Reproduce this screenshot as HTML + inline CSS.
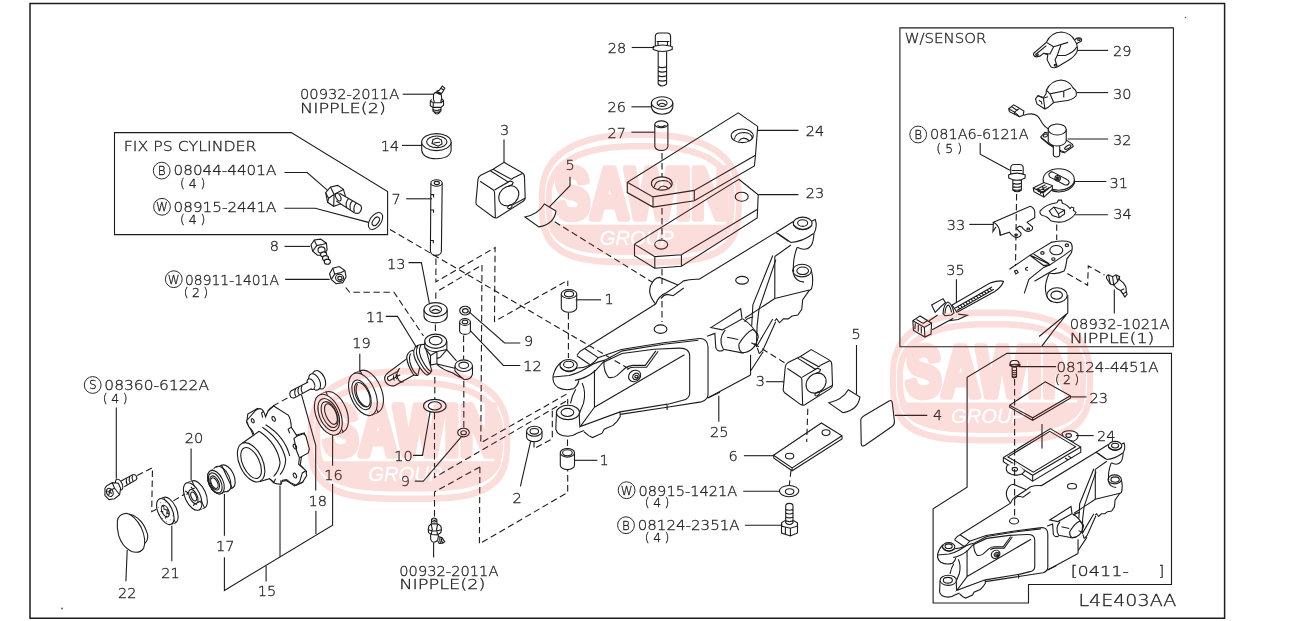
<!DOCTYPE html>
<html><head><meta charset="utf-8"><title>L4E403AA</title>
<style>
html,body{margin:0;padding:0;background:#fff}
svg{display:block}
.t text{font-family:"DejaVu Sans Light","DejaVu Sans","Liberation Sans",sans-serif;font-weight:200;font-size:14.5px;fill:#222;stroke:#222;stroke-width:.3px}
#labels{filter:grayscale(1)}
.t .s{font-size:12.5px}
.t .c{font-size:12px;text-anchor:middle}
.t .b{font-size:16px}
.l{fill:none;stroke:#1c1c1c;stroke-width:1.1}
.l *{vector-effect:non-scaling-stroke}
.f{fill:#fff}
.d{stroke-dasharray:6.4 3.6}
.wm{opacity:1}
</style></head>
<body>
<svg width="1297" height="621" viewBox="0 0 1297 621">
<rect width="1297" height="621" fill="#fff"/>
<!--PARTS-->
<g class="l" id="parts">
<g id="arm">
<g transform="translate(540,330) scale(0.19313)">
<path class="f" d="M108 168Q80 190 68 236Q62 275 91 296Q130 318 176 303L208 500L282 400L748 128L720 94L421 101L599 -135L231 96Z" stroke="none"/>
<ellipse cx="148" cy="183" rx="45" ry="30"/>
<ellipse cx="148" cy="179" rx="26" ry="17"/>
<path d="M104 190Q148 238 192 196"/>
<path d="M108 168Q80 190 68 236Q62 275 91 296Q130 318 176 303Q198 285 201 261"/>
<path d="M191 131Q208 106 231 96L599 -135"/>
<path d="M231 96L301 143M191 133L261 181"/>
<path d="M192 197Q232 195 261 181Q285 165 301 143L421 101L640 66L825 44Q868 42 870 90V335Q868 362 835 372L658 400L415 437"/>
<path d="M68 243L151 236Q200 222 226 206L276 176Q300 165 336 156L426 108L640 74L820 53"/>
<path d="M181 261Q241 250 286 211L326 168L425 122L590 100L720 94Q775 92 775 135V330Q772 358 740 364L662 384"/>
<path d="M282 207V400L748 128M282 400L208 500L415 424L658 384V414M415 424V450L398 474L378 494L332 514L322 534L272 557L252 547L228 527"/>
<path d="M932 322L868 352"/>
<path d="M331 161Q328 215 356 246Q380 250 400 235L440 198Q455 185 480 183L545 183L600 108"/>
<path d="M452 205Q465 193 485 193L552 193L612 110"/>
<ellipse cx="490" cy="238" rx="33" ry="28" transform="rotate(-35 490 238)"/>
<ellipse cx="497" cy="240" rx="18" ry="15" transform="rotate(-35 497 240)"/>
<ellipse cx="499" cy="241" rx="8" ry="7"/>
<ellipse class="f" cx="145" cy="427" rx="60" ry="37"/>
<ellipse cx="142" cy="427" rx="33" ry="21"/>
<path d="M85 432L82 514Q90 548 145 550Q175 548 192 534L228 520"/>
<path d="M203 437L206 500"/>
<path d="M185 307Q165 340 158 380M218 274Q240 320 225 380L203 434"/>
</g>
<g transform="translate(620,260) scale(0.19313)">
<path d="M185 228Q135 170 165 120Q180 92 205 90L300 130"/>
<path d="M185 228Q200 185 240 170L300 130"/>
<path d="M212 200Q225 180 245 178L275 185L330 145"/>
<path d="M300 130L330 108Q360 98 410 100L807 -143"/>
<ellipse cx="632" cy="105" rx="33" ry="20"/>
<ellipse cx="210" cy="358" rx="33" ry="22"/>
<path d="M470 350L625 252L632 305L530 362Z"/>
<path d="M545 362Q505 410 535 462L640 482"/>
<path d="M631 480Q700 478 716 395Q712 372 686 360Q650 378 616 435Q612 462 631 480"/>
<path d="M636 305Q690 340 712 392"/>
<path d="M555 400L612 412M680 428L712 446"/>
<path d="M451 395L491 380L496 455Q506 480 536 467"/>
<path d="M791 -23L688 232L682 340M807 -2L720 253L710 340L706 450L791 305M721 485L741 465L806 320"/>
<path d="M711 455L721 485M801 315L811 305L826 325L846 305L871 305L891 290L921 285L941 255L946 205L981 156"/>
<path d="M676 490V595M676 575L741 475M676 595L454 714"/>
<path d="M645 320Q655 300 690 295"/>
</g>
<g transform="translate(690,200) scale(0.20942)">
<ellipse class="f" cx="538" cy="112" rx="45" ry="30"/>
<ellipse cx="538" cy="110" rx="24" ry="16"/>
<path d="M493 118Q538 162 583 120"/>
<path d="M410 155L493 103M583 100L598 93Q610 125 592 160Q590 200 578 218Q555 248 512 226"/>
<path d="M420 160L482 203M410 155L470 197"/>
<path d="M482 203Q535 200 590 160"/>
<path d="M512 226Q488 285 495 345"/>
<ellipse cx="535" cy="337" rx="45" ry="30"/>
<ellipse cx="538" cy="338" rx="28" ry="18"/>
<path d="M493 348Q500 388 545 392M580 340Q592 385 580 425L570 432"/>
<path d="M405 270V470M405 270L482 215"/>
<path d="M405 470L570 430M405 470L330 520L262 565"/>
</g>
</g>
<use href="#arm" transform="translate(544.4,287) scale(0.711)"/>
<g id="plates">
<path class="f" d="M738.8 179.3L758.2 194.8L757.6 209.3L757.2 218L681.4 266.3L654.8 268.2L634.5 255.7V244.1Z"/>
<path d="M757.6 209.3L681.4 254.7L654.8 256.6L634.5 244.1M654.8 256.6V268.2M681.4 254.7V266.3"/>
<ellipse cx="741.7" cy="196.7" rx="6.5" ry="4.5"/>
<ellipse cx="661.2" cy="244.6" rx="6.5" ry="4.5"/>
<path class="f" d="M738.3 112.9L757.7 126.4L755.5 155.2L754.4 166L694.3 200.8L653 207.1L627.3 192.6V182.3Z"/>
<path d="M755.5 155.2L694.3 190.4L653 196.9L627.3 182.3M653 196.9V207.1M694.3 190.4V200.8"/>
<ellipse cx="742.2" cy="135.8" rx="11" ry="6.8"/>
<path d="M734.5 139.5Q735 132.5 744 132.5Q752 133 752.3 138.5M738.3 141.5Q743.5 135 749.5 141"/>
<ellipse cx="661.8" cy="183.5" rx="10.4" ry="6.6"/>
<path d="M654.3 187.2Q655 180.5 663.5 180.5Q671 181 671.5 186.5M658 189.3Q663 183 669 189"/>
</g>
<g id="bolt28">
<path d="M655.3 46.4V36.5Q655.5 33 659 33H667Q670.5 33 670.6 36.5V46.4M653.2 46.6Q662.5 43.5 672.2 46.6V49.6Q662.5 53.5 653.2 49.6ZM656.6 41.5H669.4M658 41.5V45M667.5 41.5V45M658.2 51.5V84Q662 88 666.6 84V51.5M658.2 66.8Q662 68.5 666.6 66.8M658.2 71.3Q662 73 666.6 71.3M658.2 75.8Q662 77.5 666.6 75.8M658.2 80.3Q662 82 666.6 80.3"/>
</g>
<g id="w26">
<path d="M651.4 103V107.5Q653 114 662.1 114.2Q671 114 672.8 107.5V103"/>
<ellipse class="f" cx="662.1" cy="103" rx="10.7" ry="6.2"/>
<ellipse cx="662.1" cy="103.2" rx="5" ry="3.2"/>
<path d="M658.3 105Q662 101.5 665.8 105"/>
</g>
<g id="pin27">
<path class="f" d="M654.8 124.3V146.5Q656 150.5 661.3 150.5Q667 150.5 667.9 146.5V124.3"/>
<ellipse class="f" cx="661.3" cy="124.3" rx="6.55" ry="3.4"/>
<path d="M657.5 125.3Q661 128.5 665.5 125.3"/>
</g>
<g id="nipTop" transform="translate(420,80) scale(0.0645)">
<path d="M262 172L300 160L345 95L385 125L352 185L330 212M325 128L368 155M255 170L330 210M243 192L322 228M210 222Q260 150 330 228M210 222Q198 300 225 345M330 228Q348 290 320 348"/>
<path d="M178 300L160 330V400L200 425L330 420L365 390V320L345 298M160 330L205 350L330 352L365 320M205 350V425M200 425V480Q260 522 325 480V422M200 455Q260 492 325 455M215 492Q262 565 315 490"/>
</g>
<g id="b14">
<path d="M421.7 142.1V150.3Q423 158.6 436.4 158.8Q450 158.6 451.1 150.3V142.1"/>
<ellipse class="f" cx="436.4" cy="142.1" rx="14.7" ry="8.5"/>
<ellipse cx="436.8" cy="141.8" rx="10.2" ry="5.8"/>
<path d="M432 143.5L433 139.5L437.5 138L441.5 140L442 144L438 146.2ZM433.5 143L440 142.2"/>
</g>
<g id="pin7">
<path class="f" d="M430.9 183.2L430.4 251Q431 255.3 435.8 255.4Q441 255.3 441.4 251L442.2 183.2"/>
<ellipse class="f" cx="436.55" cy="183" rx="5.65" ry="3.2"/>
<ellipse cx="436.8" cy="183" rx="2.6" ry="1.6"/>
<path d="M430.8 194.6H433.6V197.4M430.7 210H433.5V212.8M430.5 240.5H433.3V243.3"/>
</g>
<g id="fixbolt" transform="translate(250,125) scale(0.16103)">
<path class="f" d="M470 420L500 385L545 375L580 400L592 440L562 490L520 505L482 480Z"/>
<path d="M500 385L522 432L580 400M522 432L520 505M470 420L488 455L482 480M488 455L522 432"/>
<path class="f" d="M556 424L688 500Q700 520 680 545Q665 553 648 545L536 472"/>
<ellipse cx="548" cy="448" rx="14" ry="26" transform="rotate(-30 548 448)"/>
<path d="M612 457Q590 480 600 512M636 471Q614 494 624 526M660 485Q638 508 648 540"/>
</g>
<g id="fixwasher">
<ellipse cx="375.5" cy="221" rx="9.6" ry="5.6" transform="rotate(-55 375.5 221)"/>
<ellipse cx="375.8" cy="221.3" rx="4.8" ry="2.8" transform="rotate(-55 375.8 221.3)"/>
</g>
<g id="bolt8" transform="translate(270,215) scale(0.16103)">
<path class="f" d="M255 185L275 155L315 150L350 175L355 215L335 250L295 250L265 225Z"/>
<path d="M275 155L290 190L265 225M290 190L330 182L350 175"/>
<ellipse cx="320" cy="218" rx="22" ry="20"/>
<ellipse class="f" cx="333" cy="245" rx="19" ry="16"/>
<ellipse class="f" cx="345" cy="268" rx="19" ry="16"/>
<ellipse class="f" cx="356" cy="290" rx="19" ry="16"/>
</g>
<g id="nut" transform="translate(270,215) scale(0.16103)">
<path class="f" d="M370 365L390 330L430 320L465 345L472 385L452 420L410 427L380 400Z"/>
<path d="M390 330L402 367L380 400M402 367L442 357L465 345"/>
<ellipse cx="432" cy="390" rx="25" ry="22"/>
<ellipse cx="434" cy="392" rx="13" ry="11"/>
</g>
<g id="smallcyl">
<path class="f" d="M424.0 309.6V315.9A11.6 7 0 0 0 447.20000000000005 315.9V309.6"/><ellipse class="f" cx="435.6" cy="309.6" rx="11.6" ry="7"/><ellipse cx="435.6" cy="309.6" rx="6" ry="3.8"/><path d="M431.5 311.2Q435.6 307.5 439.7 311.2"/>
<path class="f" d="M459.6 322V331A5.4 3.4 0 0 0 470.4 331V322"/><ellipse class="f" cx="465" cy="322" rx="5.4" ry="3.4"/><ellipse cx="465" cy="322" rx="2.8" ry="1.8"/>
<path class="f" d="M561.3 294V307.8A7.7 4.4 0 0 0 576.7 307.8V294"/><ellipse class="f" cx="569" cy="294" rx="7.7" ry="4.4"/><ellipse cx="569" cy="294" rx="4.6" ry="2.7"/>
<path class="f" d="M560.3 452.8V465.3A7.1 4.3 0 0 0 574.5 465.3V452.8"/><ellipse class="f" cx="567.4" cy="452.8" rx="7.1" ry="4.3"/><ellipse cx="567.4" cy="452.8" rx="4.8" ry="3"/>
<path class="f" d="M526.5999999999999 431.3V436.8A7.7 5 0 0 0 542.0 436.8V431.3"/><ellipse class="f" cx="534.3" cy="431.3" rx="7.7" ry="5"/><ellipse cx="534.3" cy="431.3" rx="4.3" ry="2.8"/>
<ellipse cx="465.1" cy="310.6" rx="5.4" ry="4.4"/><ellipse cx="465.3" cy="310.8" rx="2.8" ry="2.2"/>
<ellipse class="f" cx="434.8" cy="405.9" rx="11.3" ry="6.5"/><ellipse cx="434.8" cy="405.9" rx="6.6" ry="4.1"/>
<ellipse class="f" cx="463.5" cy="432.6" rx="5.8" ry="4.3"/><ellipse cx="463.6" cy="432.7" rx="2.8" ry="2"/>
</g>
<g id="knuckle" transform="translate(370,320) scale(0.12875)">
<path class="f" d="M287 300L140 410Q100 440 120 480Q150 520 190 510L345 425"/>
<path d="M232 375Q200 400 215 450Q230 490 262 480M140 440L225 395M150 472L235 425M140 440Q128 460 150 472M185 430Q175 450 190 470M205 420Q195 440 210 460"/>
<path class="f" d="M330 235Q290 250 285 290Q290 350 335 420Q350 435 372 430L400 300Z"/>
<path d="M318 262Q300 280 310 330Q330 400 365 425"/>
<path class="f" d="M352 208Q385 185 425 190L480 395Q465 425 442 428Q410 410 375 350Q318 262 352 208Z"/>
<path d="M372 200Q340 256 395 340Q430 400 460 415M395 195Q365 250 415 330Q445 385 475 400"/>
<path class="f" d="M425 165V215L470 275V350L520 342Q560 385 640 410Q700 452 760 460L796 420V355L672 318L597 232V165Z" stroke="none"/>
<path d="M425 165V215Q470 252 520 245L597 230V165"/>
<ellipse class="f" cx="510" cy="165" rx="85" ry="55"/>
<ellipse cx="510" cy="160" rx="50" ry="33"/>
<path d="M425 215L470 275L520 245M470 275V350L520 340V245M597 230L545 290L520 300"/>
<path d="M597 232L672 318M520 342L660 375M520 345Q560 385 640 410Q700 452 760 460"/>
<path class="f" d="M660 355V395Q690 430 730 462Q785 465 796 420V355"/>
<ellipse class="f" cx="728" cy="355" rx="68" ry="45"/>
<ellipse cx="728" cy="352" rx="38" ry="25"/>
</g>
<g id="blk3" transform="translate(465,150) scale(0.1368)">
<path class="f" d="M285 90L415 165Q435 175 435 200L440 350Q440 365 425 375L235 495Q220 500 205 490L90 405Q78 395 80 380L95 215Q98 195 115 185L205 140Z"/>
<path d="M110 228L205 290Q216 297 216 312L222 495M216 293L330 226L352 236L346 252L318 265M352 205L420 172M205 140L340 215L352 205M185 152L312 232L330 226"/>
<ellipse cx="320" cy="335" rx="80" ry="66" transform="rotate(-45 320 335)"/>
<ellipse cx="328" cy="415" rx="18" ry="11" transform="rotate(-35 328 415)"/>
<path d="M346 403L438 352"/>
</g>
<use href="#blk3" transform="translate(307.3,187.3)"/>
<g id="shim5" transform="translate(465,150) scale(0.1368)">
<path class="f" d="M438 490Q535 470 580 395L665 447Q650 545 540 562Z"/>
</g>
<use href="#shim5" transform="translate(304,185.8)"/>
<path id="item4" d="M864.5 415.5L889 401Q892 399.5 892.3 403L894.4 421Q894.8 424.5 892 426.5L865 445.2Q861.3 447.5 861.2 443.5L860.8 420.5Q860.8 417.5 864.5 415.5Z"/>
<g id="plate6">
<path class="f" d="M773.5 455.2L821.4 423L842 435.8V439L792.1 470.8L773.9 458.3Z"/>
<path d="M773.5 455.2L792.1 467.9L842 435.8M792.1 467.9V470.8"/>
<ellipse cx="789.6" cy="456.1" rx="4.2" ry="2.9"/>
<ellipse cx="826" cy="432.6" rx="4" ry="2.9"/>
</g>
<g id="washerB">
<ellipse cx="789.1" cy="491.1" rx="9.7" ry="5.6"/>
<ellipse cx="789.6" cy="491.6" rx="4.2" ry="2.9"/>
</g>
<g id="boltB">
<path d="M785.7 523V506Q785.8 503.4 789.3 503.4Q793 503.4 793 506V523M785.7 509.3Q789.3 511.3 793 509.3M785.7 513Q789.3 515 793 513M785.7 516.9Q789.3 518.9 793 516.9M785.7 520.6Q789.3 522.6 793 520.6"/>
<path d="M781.5 522.8L785.4 520.4M793.3 520.4L797.5 522.8L797.2 526.2L790.4 528.3L782 526.2L781.5 522.8V533L790.4 536L797.5 533V522.8M785.4 527V534.2M790.4 528.3V536M785.7 523Q789.3 526 793 523"/>
</g>
<g id="seals" transform="translate(300,360) scale(0.1368)">
<ellipse class="f" cx="505" cy="230" rx="165" ry="90" transform="rotate(67 505 230)"/><path class="f" d="M395.5 98.1L440.5 78.1L569.5 381.9L524.5 401.9" stroke-linejoin="round"/><path class="f" d="M436.0 80.1L565.0 383.9L524.5 401.9L395.5 98.1Z" stroke="none"/><ellipse class="f" cx="460" cy="250" rx="165" ry="90" transform="rotate(67 460 250)"/><ellipse cx="450" cy="255" rx="115" ry="60" transform="rotate(67 450 255)"/><ellipse cx="456" cy="254" rx="95" ry="48" transform="rotate(67 456 254)"/><path d="M420 175Q395 220 430 290Q455 335 490 340"/>
<ellipse class="f" cx="252" cy="380" rx="158" ry="88" transform="rotate(67 252 380)"/><path class="f" d="M145.3 254.6L190.3 234.6L313.7 525.4L268.7 545.4" stroke-linejoin="round"/><path class="f" d="M185.8 236.6L309.2 527.4L268.7 545.4L145.3 254.6Z" stroke="none"/><ellipse class="f" cx="207" cy="400" rx="158" ry="88" transform="rotate(67 207 400)"/><ellipse cx="210" cy="400" rx="125" ry="68" transform="rotate(67 210 400)"/><ellipse cx="216" cy="399" rx="100" ry="52" transform="rotate(67 216 399)"/><ellipse cx="226" cy="395" rx="80" ry="38" transform="rotate(67 226 395)"/>
</g>
<g id="stud18" transform="translate(225,365) scale(0.2174)">
<ellipse class="f" cx="432" cy="68" rx="45" ry="27" transform="rotate(65 432 68)"/><ellipse class="f" cx="412" cy="78" rx="40" ry="24" transform="rotate(65 412 78)"/><ellipse class="f" cx="395" cy="88" rx="26" ry="16" transform="rotate(65 395 88)"/><path class="f" d="M383 78L305 118Q292 130 303 148Q312 155 322 150L398 108"/><path d="M340 102Q330 118 342 138M325 110Q315 126 327 146M355 94Q345 110 357 130"/>
<path class="f" d="M105 225L150 200L175 213L185 238L200 212L218 195L290 235L302 270L290 300L330 322L365 312L385 385L352 420L346 460L375 490L357 540L320 556L282 532L255 536L232 542L212 520L120 300L100 265Z"/>
</g>
<g id="hub" transform="translate(235,395) scale(0.16103)">
<path class="f" d="M72 160L128 95Q150 78 165 88Q180 100 190 135L205 100L240 68L330 125Q345 140 350 200L385 255L425 240L440 255L462 335L455 360L400 390L395 430L440 470L445 500L420 540L380 560L345 545L320 525L295 530L285 555L250 550L215 520L110 225L85 195Z"/>
<path d="M240 68L218 84L205 100M350 200L330 212L340 238M385 255L366 270L382 345L400 390M440 470L418 484L402 538L380 560M178 100L165 112L172 140"/>
<ellipse cx="110" cy="160" rx="14" ry="8" transform="rotate(65 110 160)"/><ellipse cx="240" cy="148" rx="16" ry="9" transform="rotate(65 240 148)"/><ellipse cx="372" cy="320" rx="16" ry="9" transform="rotate(65 372 320)"/><ellipse cx="372" cy="500" rx="16" ry="9" transform="rotate(65 372 500)"/>
<path class="f" d="M45 300L190 185Q310 255 340 380Q335 450 300 500L160 538Z" stroke="none"/>
<path d="M45 300L150 225M150 225Q262 300 280 420Q275 470 240 505M170 200Q290 280 315 400Q312 455 280 495M190 185Q310 258 340 380"/>
<ellipse class="f" cx="100" cy="418" rx="130" ry="72" transform="rotate(65 100 418)"/><ellipse cx="100" cy="422" rx="103" ry="52" transform="rotate(65 100 422)"/>
<path d="M155 537L215 520L240 545L252 520M285 555V530"/>
</g>
<g id="brg" transform="translate(140,450) scale(0.1368)">
<ellipse class="f" cx="635" cy="195" rx="92" ry="52" transform="rotate(65 635 195)"/><path class="f" d="M516.1 151.6L596.1 111.6L673.9 278.4L593.9 318.4" stroke-linejoin="round"/><path class="f" d="M588.1 115.6L665.9 282.4L593.9 318.4L516.1 151.6Z" stroke="none"/><ellipse class="f" cx="555" cy="235" rx="92" ry="52" transform="rotate(65 555 235)"/><ellipse cx="600" cy="212" rx="100" ry="54" transform="rotate(65 600 212)"/><path class="f" d="M516 152L555 130Q620 150 640 280L600 318Z" stroke="none"/><ellipse class="f" cx="555" cy="235" rx="92" ry="52" transform="rotate(65 555 235)"/><ellipse cx="550" cy="240" rx="78" ry="42" transform="rotate(65 550 240)"/><ellipse cx="546" cy="241" rx="55" ry="30" transform="rotate(65 546 241)"/><ellipse cx="544" cy="242" rx="42" ry="22" transform="rotate(65 544 242)"/>
<ellipse class="f" cx="425" cy="325" rx="108" ry="55" transform="rotate(65 425 325)"/><path class="f" d="M339.4 242.1L379.4 227.1L470.6 422.9L430.6 437.9" stroke-linejoin="round"/><path class="f" d="M375.4 228.6L466.6 424.4L430.6 437.9L339.4 242.1Z" stroke="none"/><ellipse class="f" cx="385" cy="340" rx="108" ry="55" transform="rotate(65 385 340)"/><ellipse cx="390" cy="340" rx="55" ry="28" transform="rotate(65 390 340)"/><ellipse cx="392" cy="340" rx="35" ry="18" transform="rotate(65 392 340)"/><path d="M330 300L350 312L342 328M372 270L385 285L400 278M420 385L440 375L450 390M390 410L398 392L415 398"/>
<ellipse class="f" cx="215" cy="440" rx="102" ry="52" transform="rotate(65 215 440)"/><path class="f" d="M141.9 357.6L171.9 347.6L258.1 532.4L228.1 542.4" stroke-linejoin="round"/><path class="f" d="M168.9 348.6L255.1 533.4L228.1 542.4L141.9 357.6Z" stroke="none"/><ellipse class="f" cx="185" cy="450" rx="102" ry="52" transform="rotate(65 185 450)"/><ellipse cx="185" cy="447" rx="45" ry="24" transform="rotate(65 185 447)"/><path d="M160 405L178 420M150 450L170 452M185 500L195 480M215 470L200 460M170 430L200 440L195 470"/><g fill="#222" stroke="none"><circle cx="150" cy="385" r="3.5"/><circle cx="185" cy="380" r="3.5"/><circle cx="135" cy="420" r="3.5"/><circle cx="215" cy="400" r="3.5"/><circle cx="235" cy="440" r="3.5"/><circle cx="240" cy="480" r="3.5"/><circle cx="225" cy="510" r="3.5"/><circle cx="195" cy="525" r="3.5"/><circle cx="165" cy="500" r="3.5"/><circle cx="145" cy="470" r="3.5"/></g>
</g>
<g id="screwS" transform="translate(80,440) scale(0.16103)">
<path class="f" d="M255 255L330 215Q345 212 352 228Q355 240 348 248L275 290"/><path d="M290 240Q282 258 294 278M308 230Q300 248 312 268M326 220Q318 238 330 258"/>
<ellipse class="f" cx="243" cy="277" rx="36" ry="19" transform="rotate(65 243 277)"/><path class="f" d="M155 300L165 285L200 265L238 268L252 300L246 340L215 365L180 370L155 345Z"/><ellipse cx="185" cy="325" rx="26" ry="20" transform="rotate(65 185 325)"/><path d="M170 318L200 332M192 308L178 342M200 265L215 300L246 340M215 300L180 315"/>
</g>
<g id="cap22" transform="translate(80,500) scale(0.16103)">
<path class="f" d="M310 88Q390 110 420 215Q425 250 400 272L320 200Z"/><path class="f" d="M232 130Q240 85 290 82Q340 95 380 170Q415 250 395 300Q370 335 320 320Q260 290 240 220Q228 170 232 130Z"/>
</g>
<g id="i29" transform="translate(1000,25) scale(0.1449)">
<path class="f" d="M232 195Q228 215 250 220L275 215L300 195L330 205L325 240L350 288Q370 300 395 290L470 245Q520 215 533 180Q540 140 515 105Q490 55 425 48Q350 50 320 120Z"/>
<path d="M515 103Q530 85 555 90Q570 100 560 112L530 128"/>
<path d="M320 120L370 150L345 200L300 195M370 150L470 120M420 140L395 210L450 210Q510 190 530 150M395 210L380 240L395 290M320 142L250 200"/>
<ellipse cx="255" cy="205" rx="9" ry="6"/><ellipse cx="383" cy="278" rx="9" ry="6"/><ellipse cx="545" cy="101" rx="9" ry="6"/>
<path class="f" d="M320 450Q350 385 420 380Q480 385 505 435Q535 455 525 490Q500 520 440 525L370 535L330 570L310 580L255 545L245 510L262 488L300 500L318 475Z"/>
<path d="M320 450L345 475L440 455L490 435M345 475L370 535M440 455V500M262 488L300 505L330 495M300 505L310 580M268 520L285 530L290 548"/>
</g>
<g id="i32" transform="translate(1000,95) scale(0.1449)">
<path class="f" d="M280 290L310 258L335 262L457 310L500 340L505 355L450 395L420 385L335 335Z"/>
<path d="M283 296L338 342L420 392L450 400"/>
<ellipse cx="313" cy="280" rx="15" ry="9" transform="rotate(-20 313 280)"/>
<ellipse cx="468" cy="360" rx="25" ry="10" transform="rotate(-30 468 360)"/>
<path class="f" d="M368 340V415Q372 428 390 428Q408 428 412 415V345"/>
<path class="f" d="M333 238V318Q345 350 395 352Q445 350 457 318V238"/>
<ellipse class="f" cx="395" cy="238" rx="62" ry="38"/>
<path d="M335 235Q300 215 280 175Q260 130 215 130Q185 130 165 140"/>
<path class="f" d="M60 95L95 68L165 110L160 140L135 150L65 115Z"/>
<path d="M60 95L100 118L135 150M100 118L130 95M80 80L115 104M100 118L98 132"/>
</g>
<g id="bolt81">
<path d="M1010.7 174.5V167.5Q1010.9 164.5 1014.5 164.5H1019.5Q1023 164.5 1023.2 167.5V174.5M1008.7 174.8Q1017 171.5 1025.1 174.8V178Q1017 182.5 1008.7 178ZM1011.8 170.5H1022.2M1012.8 180V190Q1017 193.5 1021.4 190V180M1012.8 183.3Q1017 185 1021.4 183.3M1012.8 186.4Q1017 188 1021.4 186.4M1012.8 189.4Q1017 191 1021.4 189.4"/>
</g>
<g id="i31" transform="translate(985,155) scale(0.153)">
<path class="f" d="M382 160V175Q400 235 482 242Q560 238 585 185V160"/>
<ellipse class="f" cx="482" cy="160" rx="102" ry="70"/>
<path d="M425 115Q410 125 425 145L520 195Q545 200 550 180Q550 165 535 160L445 112Q432 108 425 115Z"/>
<circle cx="475" cy="152" r="18"/><circle cx="475" cy="152" r="10"/><circle cx="475" cy="152" r="4"/>
<path class="f" d="M315 215L385 180L440 200L440 225L385 275L320 240Z"/>
<path d="M315 215L380 248L385 275M380 248L440 200M335 225L395 195M345 240L405 205M360 250L420 212M350 215L365 255M375 205L390 240"/>
</g>
<g id="i34" transform="translate(985,155) scale(0.153)">
<path class="f" d="M360 365Q400 320 470 312L480 295L500 295L505 315Q540 325 555 350L565 340L580 345L578 362L595 375Q580 410 520 435Q470 445 430 430Q410 400 375 395Q355 385 360 365Z"/>
<path d="M420 365L450 340L520 360L520 385L485 410L440 395ZM450 340L480 385L485 410M480 385L520 360"/>
</g>
<g id="i33" transform="translate(985,155) scale(0.153)">
<path class="f" d="M55 440L295 335Q322 345 325 370V410L275 440L310 470Q315 495 285 500Q260 500 240 470L225 465L205 480L235 510Q240 535 205 540Q180 535 160 505L100 525L95 490Q85 455 55 440Z"/>
<path d="M55 440L52 500L72 470M100 525L95 490"/>
<ellipse cx="283" cy="483" rx="9" ry="6"/><ellipse cx="203" cy="522" rx="9" ry="6"/>
</g>
<g id="armend" transform="translate(990,235) scale(0.18519)">
<path d="M105 185L215 110L330 40Q400 25 435 40Q450 60 440 95L415 130Q410 175 400 195Q360 215 320 205"/>
<path d="M215 110L230 115L325 160L400 110L440 80M215 110L290 165L325 160M235 103L320 155"/>
<ellipse cx="358" cy="82" rx="35" ry="25"/>
<ellipse cx="283" cy="97" rx="9" ry="7"/><ellipse cx="342" cy="130" rx="9" ry="7"/><ellipse cx="415" cy="55" rx="9" ry="7"/>
<path d="M132 195L145 190L152 203L140 210ZM205 175Q190 175 192 185Q195 192 205 190"/>
<path d="M325 160L290 175L210 240L185 315M360 180L240 250"/>
<path d="M320 205Q295 260 300 300Q305 350 335 360"/>
<ellipse cx="362" cy="325" rx="55" ry="40"/>
<ellipse cx="360" cy="325" rx="31" ry="22"/>
<path d="M420 325V420L340 520L280 600M415 425L265 548"/>
</g>
<g id="nipR" transform="translate(990,235) scale(0.18519)">
<path d="M630 235Q625 220 640 215L662 225L680 215L700 225L698 240L720 258Q738 280 735 300L740 320L728 335L718 318L705 300Q680 290 668 270L650 265Z"/>
<path d="M640 215L650 265M662 225L668 270M680 215L690 250L668 270M700 225L690 250M705 300L725 290M718 318L735 308"/>
</g>
<g id="tie35" transform="translate(905,270) scale(0.12083)">
<path class="f" d="M390 290L700 110Q790 80 815 95Q800 140 740 180L430 350Z"/>
<path d="M415 315L720 140M430 335L735 160M437 302L452 322M459 290L474 310M481 277L496 297M503 264L518 284M525 252L540 272M547 239L562 259M569 226L584 246M591 214L606 234M613 201L628 221M635 188L650 208M657 176L672 196M679 163L694 183M701 150L716 170"/>
<path class="f" d="M220 290L315 237L335 270L300 300L250 350Z"/>
<path class="f" d="M315 360Q320 280 355 265Q390 280 405 355L385 372L330 378Z"/>
<path d="M330 360Q335 300 358 290Q375 300 385 350"/>
<path d="M200 420L270 372M225 495L400 400M365 420L440 410L515 375L440 365"/>
<path class="f" d="M65 420L125 380L220 440L215 530L165 555L70 500Z"/>
<path d="M65 420L160 475L165 555M160 475L220 440M85 440L82 490M110 455V510M135 470V525M95 410L150 442L185 420"/>
</g>
<g id="lowerbox" transform="translate(995,355) scale(0.2092)">
<path d="M72 42Q72 28 85 26H102Q115 28 115 42V48Q92 60 72 48ZM68 48Q92 40 120 48Q92 68 68 48M82 60V105Q92 112 103 105V60M82 72Q92 78 103 72M82 82Q92 88 103 82M82 92Q92 98 103 92M82 102Q92 108 103 102"/>
<path class="f" d="M240 128L360 195V207L180 312L70 250V240Z"/>
<path d="M70 240L180 300L360 195M180 300V312"/>
<path class="f" d="M320 375Q330 360 360 362Q395 365 398 385Q395 405 375 412L330 400Z"/>
<path class="f" d="M265 352L410 440V465L180 603L40 510V490Z"/>
<path d="M40 490L180 575L410 440M180 575V603"/>
<path d="M262 365L385 438L183 560L62 487ZM350 482L365 492M335 492L350 502"/>
<ellipse cx="352" cy="385" rx="13" ry="9"/>
<path class="f" d="M60 525Q48 545 60 560Q80 577 110 574Q135 570 142 553L100 520Z" />
<path class="f" d="M62 524L142 553L100 515Z" stroke="none"/>
<ellipse cx="95" cy="546" rx="13" ry="9"/>
</g>
<g id="nipLow" transform="translate(415,510) scale(0.0645)">
<path d="M255 205V150Q260 125 295 125Q335 128 340 155V205M255 172Q295 200 340 172M268 150Q295 170 328 150"/>
<path d="M215 250L250 215L350 215L400 250L410 300L400 350L350 385L250 380L210 350L205 300ZM250 215L268 300L250 380M350 215L335 300L350 385M210 305Q300 345 408 305"/>
<path d="M240 385L245 460Q260 500 290 500Q340 495 355 455L365 390"/>
<path d="M365 410L420 430L460 490L430 515L375 520L352 478M420 430Q395 470 430 515M395 420Q370 455 400 518"/>
</g>
<!--MOREPARTS-->
</g>
<g fill="#555"><circle cx="1185.5" cy="17.5" r=".8"/><circle cx="62" cy="608.5" r=".9"/></g>
<!--FRAME-->
<g class="l" id="frame">
<rect x="30" y="3.6" width="1194.6" height="614.6" stroke-width="1.5"/>
<path d="M114.5 234.6V132.6H291.3L387.6 191.5V234.6Z"/>
<path d="M899.9 27.9H1173.4V346.8H899.9Z"/>
<path d="M1171.5 353.4H1006.9L967.1 377.4V487.3L933.1 508.7V603H1028.5V584.5H1171.5Z"/>
</g>
<!--LEADERS-->
<g class="l" id="leaders">
<path d="M402.7 94.2H434"/>
<path d="M402 145.4H422"/>
<path d="M284.4 172.5H307.2L327.3 190.2"/>
<path d="M284.4 208.3H315.2L368.4 222.4"/>
<path d="M406.2 198.8H432"/>
<path d="M284.5 246.4H310.3"/>
<path d="M285.2 279.4H329.6"/>
<path d="M408.5 262.6H421.4L429.4 303.6"/>
<path d="M385.8 316.4H397.5L416.6 347.5"/>
<path d="M359.8 353.8V372.3"/>
<path d="M468.5 311.4L504.6 343H520.3"/>
<path d="M470.3 330.6L503.4 365.5H520.3"/>
<path d="M413 455.4H422.5L430.2 411.6"/>
<path d="M414.8 481.1H423.3L461.9 436.1"/>
<path d="M116.3 407.5V478.6"/>
<path d="M191.1 448.6V480.3"/>
<path d="M127.2 550L125.9 581.3"/>
<path d="M171.8 525.8V561.2"/>
<path d="M224.4 494V535.8M224.4 557.2V590.5L332.6 525.1V483.7M332.6 465.7V435.2"/>
<path d="M280 485.5V556.7"/>
<path d="M301.5 394.7L315.7 445.4V490.5M315.9 510.8V534.1"/>
<path d="M266.1 565.7V581.5"/>
<path d="M504 139.5V162"/>
<path d="M570 176.7V185.7L549.1 207.1"/>
<path d="M631.4 106.8H651"/>
<path d="M631.4 132.2H655"/>
<path d="M631.7 47.5H654.3"/>
<path d="M757.8 130.4H798.4"/>
<path d="M758.2 194.6H798.4"/>
<path d="M575.7 299.8H601"/>
<path d="M574.5 460.3H597.3"/>
<path d="M520.4 486.3L530.7 441.2"/>
<path d="M743.9 455.7H773.2"/>
<path d="M743.2 491.3H779.4"/>
<path d="M744.9 525.2H781.5"/>
<path d="M718.8 395.7V421.7"/>
<path d="M766.1 381.7H784.1"/>
<path d="M856.5 345V394.2"/>
<path d="M894.8 415.4H927.3"/>
<path d="M433.6 542.7V557.6"/>
<path d="M1077 50.4H1108.2"/>
<path d="M1077 92.6H1108.2"/>
<path d="M1067.6 139H1108.2"/>
<path d="M980.2 142.9V154.2L1009.9 170.3"/>
<path d="M1074.1 181.5H1106.3"/>
<path d="M1075.2 214.7H1107.9"/>
<path d="M969.3 224.4H993"/>
<path d="M956.4 279.3V302.6"/>
<path d="M1114.3 289.4V313.6"/>
<path d="M1018.4 366.6H1056.1"/>
<path d="M1070.3 396.9H1086.4"/>
<path d="M1076 435.6H1093.7"/>
<path d="M1042 424.1V448.6"/>
</g>
<!--DASHED-->
<g class="l d" id="dashed">
<path d="M390 229.5L632.2 370.7"/>
<path d="M554.7 221.8L652.5 282.3"/>
<path d="M435.9 258.5V281.8L495.1 247.5L494.5 321.4L567.8 280.3V286"/>
<path d="M435.8 298.8V294Q435.8 292 438 291L482 264.9L480.8 442.8L567.7 393.5"/>
<path d="M568.4 313V358"/>
<path d="M463.6 335.5V359.5M463.8 381V427.5"/>
<path d="M435.4 324.5V333.5M434.8 377V399M434.5 413V477.5L566.8 400.8"/>
<path d="M567.7 399V404.5"/>
<path d="M662 153V177M662 208V239.5M662 269V284M662 301V322"/>
<path d="M345.7 287.5L349.7 292.3H394L423.5 336"/>
<path d="M479.9 466.9L434.5 492V517.5"/>
<path d="M479.9 466.9L479.4 543.8L567.7 492.5V470"/>
<path d="M567.5 439.5V448"/>
<path d="M534 441V448.6L552.3 438.9V409"/>
<path d="M137.2 475.4L152.5 467.7L151.7 511.7L156.5 509.2"/>
<path d="M173.4 500.9L184.7 494"/>
<path d="M273 406L291 396"/>
<path d="M1016.6 194L1015.5 266"/>
<path d="M1056.7 224.4V240.1"/>
<path d="M1067.3 273.5L1087.6 285.2L1088.3 266L1104.5 275"/>
<path d="M1014.6 379V516"/>
<path d="M753.6 343.5L787 364.3"/>
<path d="M807.8 408.7L806.7 442"/>
<path d="M791 470.4L789.3 485"/>
</g>
<!--TEXT-->
<g class="t" id="labels">
<text x="300.0" y="99.0" textLength="99.2" lengthAdjust="spacingAndGlyphs">00932-2011A</text>
<text x="300.0" y="113.2" textLength="85.8" lengthAdjust="spacingAndGlyphs">NIPPLE(2)</text>
<text x="390.0" y="151.3" text-anchor="middle">14</text>
<text x="123.8" y="150.8" textLength="132.7" lengthAdjust="spacingAndGlyphs">FIX PS CYLINDER</text>
<text x="173.6" y="175.2" textLength="102.7" lengthAdjust="spacingAndGlyphs">08044-4401A</text>
<text x="180.0" y="187.8" textLength="25.5" lengthAdjust="spacing" class="s">(4)</text>
<text x="173.6" y="212.3" textLength="102.9" lengthAdjust="spacingAndGlyphs">08915-2441A</text>
<text x="180.0" y="224.2" textLength="25.5" lengthAdjust="spacing" class="s">(4)</text>
<text x="396.1" y="204.2" text-anchor="middle">7</text>
<text x="274.3" y="251.2" text-anchor="middle">8</text>
<text x="185.0" y="284.5" textLength="94.0" lengthAdjust="spacingAndGlyphs">08911-1401A</text>
<text x="183.7" y="296.6" textLength="24.5" lengthAdjust="spacing" class="s">(2)</text>
<text x="396.2" y="268.5" text-anchor="middle">13</text>
<text x="375.3" y="321.6" text-anchor="middle">11</text>
<text x="361.4" y="348.2" text-anchor="middle">19</text>
<text x="528.5" y="346.4" text-anchor="middle">9</text>
<text x="532.5" y="370.7" text-anchor="middle">12</text>
<text x="403.5" y="461.3" text-anchor="middle">10</text>
<text x="405.4" y="485.8" text-anchor="middle">9</text>
<text x="104.3" y="390.3" textLength="104.7" lengthAdjust="spacingAndGlyphs">08360-6122A</text>
<text x="102.7" y="402.7" textLength="24.9" lengthAdjust="spacing" class="s">(4)</text>
<text x="193.9" y="443.0" text-anchor="middle">20</text>
<text x="127.3" y="598.2" text-anchor="middle">22</text>
<text x="170.5" y="578.1" text-anchor="middle">21</text>
<text x="225.2" y="550.7" text-anchor="middle">17</text>
<text x="267.1" y="596.3" text-anchor="middle">15</text>
<text x="333.4" y="480.3" text-anchor="middle">16</text>
<text x="317.8" y="505.8" text-anchor="middle">18</text>
<text x="504.6" y="135.0" text-anchor="middle">3</text>
<text x="570.1" y="170.3" text-anchor="middle">5</text>
<text x="616.7" y="112.4" text-anchor="middle">26</text>
<text x="616.7" y="137.9" text-anchor="middle">27</text>
<text x="616.9" y="53.4" text-anchor="middle">28</text>
<text x="815.1" y="135.7" text-anchor="middle">24</text>
<text x="815.1" y="198.0" text-anchor="middle">23</text>
<text x="609.0" y="304.4" text-anchor="middle">1</text>
<text x="604.2" y="464.7" text-anchor="middle">1</text>
<text x="517.0" y="502.5" text-anchor="middle">2</text>
<text x="719.2" y="436.8" text-anchor="middle">25</text>
<text x="760.4" y="386.1" text-anchor="middle">3</text>
<text x="856.2" y="339.1" text-anchor="middle">5</text>
<text x="733.2" y="460.5" text-anchor="middle">6</text>
<text x="937.5" y="419.7" text-anchor="middle">4</text>
<text x="638.6" y="495.5" textLength="98.6" lengthAdjust="spacingAndGlyphs">08915-1421A</text>
<text x="644.8" y="507.4" textLength="24.7" lengthAdjust="spacing" class="s">(4)</text>
<text x="637.7" y="530.0" textLength="102.0" lengthAdjust="spacingAndGlyphs">08124-2351A</text>
<text x="644.8" y="542.0" textLength="24.7" lengthAdjust="spacing" class="s">(4)</text>
<text x="399.3" y="575.7" textLength="99.1" lengthAdjust="spacingAndGlyphs">00932-2011A</text>
<text x="399.3" y="589.0" textLength="86.2" lengthAdjust="spacingAndGlyphs">NIPPLE(2)</text>
<text x="904.7" y="43.2" textLength="81.8" lengthAdjust="spacingAndGlyphs">W/SENSOR</text>
<text x="1122.3" y="56.1" text-anchor="middle">29</text>
<text x="1122.3" y="98.5" text-anchor="middle">30</text>
<text x="1122.3" y="144.7" text-anchor="middle">32</text>
<text x="930.1" y="139.0" textLength="98.6" lengthAdjust="spacingAndGlyphs">081A6-6121A</text>
<text x="936.2" y="152.6" textLength="26.0" lengthAdjust="spacing" class="s">(5)</text>
<text x="1118.8" y="187.6" text-anchor="middle">31</text>
<text x="1122.5" y="219.4" text-anchor="middle">34</text>
<text x="956.1" y="229.5" text-anchor="middle">33</text>
<text x="955.4" y="275.4" text-anchor="middle">35</text>
<text x="1069.7" y="329.0" textLength="100.0" lengthAdjust="spacingAndGlyphs">08932-1021A</text>
<text x="1069.7" y="342.8" textLength="84.6" lengthAdjust="spacingAndGlyphs">NIPPLE(1)</text>
<text x="1056.5" y="372.2" textLength="102.1" lengthAdjust="spacingAndGlyphs">08124-4451A</text>
<text x="1055.0" y="384.4" textLength="24.1" lengthAdjust="spacing" class="s">(2)</text>
<text x="1098.8" y="402.6" text-anchor="middle">23</text>
<text x="1106.3" y="440.7" text-anchor="middle">24</text>
<text x="1070.7" y="576.0" textLength="58.1" lengthAdjust="spacingAndGlyphs">[0411-</text>
<text x="1161.4" y="576.0" text-anchor="middle">]</text>
<text x="1078.4" y="606.0" textLength="97.9" lengthAdjust="spacingAndGlyphs" class="b">L4E403AA</text>
<circle cx="161.7" cy="170.6" r="8.4" fill="none" stroke="#2b2b2b" stroke-width="1"/><text x="161.7" y="175.0" class="c">B</text>
<circle cx="162" cy="206.8" r="8.4" fill="none" stroke="#2b2b2b" stroke-width="1"/><text x="162" y="211.2" class="c">W</text>
<circle cx="173.8" cy="279.2" r="8.4" fill="none" stroke="#2b2b2b" stroke-width="1"/><text x="173.8" y="283.6" class="c">W</text>
<circle cx="92.7" cy="385" r="8.4" fill="none" stroke="#2b2b2b" stroke-width="1"/><text x="92.7" y="389.4" class="c">S</text>
<circle cx="626.6" cy="490.2" r="8.4" fill="none" stroke="#2b2b2b" stroke-width="1"/><text x="626.6" y="494.6" class="c">W</text>
<circle cx="626" cy="525.2" r="8.4" fill="none" stroke="#2b2b2b" stroke-width="1"/><text x="626" y="529.6" class="c">B</text>
<circle cx="918.2" cy="134.5" r="8.4" fill="none" stroke="#2b2b2b" stroke-width="1"/><text x="918.2" y="138.9" class="c">B</text>
</g>
<!--WATERMARK-->
<defs><g id="wm">
<path d="M101.5 0.0L101.5 9.4L101.3 14.3L101.1 18.3L100.7 21.8L100.3 24.9L99.8 27.7L99.2 30.4L98.5 32.9L97.7 35.2L96.7 37.4L95.7 39.5L94.6 41.5L93.4 43.4L92.2 45.2L90.8 46.9L89.3 48.6L87.7 50.1L86.0 51.6L84.2 53.0L82.3 54.3L80.3 55.6L78.1 56.8L75.9 57.9L73.6 58.9L71.1 59.9L68.5 60.8L65.8 61.7L62.9 62.5L59.9 63.2L56.7 63.9L53.4 64.5L49.8 65.0L46.1 65.5L42.0 65.9L37.7 66.2L33.0 66.5L27.7 66.7L21.7 66.9L14.3 67.0L0.0 67.0L-14.3 67.0L-21.7 66.9L-27.7 66.7L-33.0 66.5L-37.7 66.2L-42.0 65.9L-46.1 65.5L-49.8 65.0L-53.4 64.5L-56.7 63.9L-59.9 63.2L-62.9 62.5L-65.8 61.7L-68.5 60.8L-71.1 59.9L-73.6 58.9L-75.9 57.9L-78.1 56.8L-80.3 55.6L-82.3 54.3L-84.2 53.0L-86.0 51.6L-87.7 50.1L-89.3 48.6L-90.8 46.9L-92.2 45.2L-93.4 43.4L-94.6 41.5L-95.7 39.5L-96.7 37.4L-97.7 35.2L-98.5 32.9L-99.2 30.4L-99.8 27.7L-100.3 24.9L-100.7 21.8L-101.1 18.3L-101.3 14.3L-101.5 9.4L-101.5 0.0L-101.4 -5.0L-101.2 -8.7L-100.9 -12.1L-100.5 -15.2L-99.9 -18.1L-99.3 -20.9L-98.4 -23.6L-97.5 -26.2L-96.4 -28.7L-95.3 -31.1L-94.0 -33.4L-92.5 -35.6L-91.0 -37.8L-89.3 -39.9L-87.6 -41.9L-85.7 -43.8L-83.7 -45.7L-81.5 -47.4L-79.3 -49.1L-76.9 -50.8L-74.4 -52.3L-71.9 -53.8L-69.2 -55.2L-66.4 -56.6L-63.4 -57.8L-60.4 -59.0L-57.2 -60.1L-54.0 -61.1L-50.6 -62.0L-47.1 -62.9L-43.4 -63.7L-39.7 -64.4L-35.8 -65.0L-31.7 -65.5L-27.5 -66.0L-23.0 -66.3L-18.3 -66.6L-13.2 -66.8L-7.6 -67.0L-0.0 -67.0L7.6 -67.0L13.2 -66.8L18.3 -66.6L23.0 -66.3L27.5 -66.0L31.7 -65.5L35.8 -65.0L39.7 -64.4L43.4 -63.7L47.1 -62.9L50.6 -62.0L54.0 -61.1L57.2 -60.1L60.4 -59.0L63.4 -57.8L66.4 -56.6L69.2 -55.2L71.9 -53.8L74.4 -52.3L76.9 -50.8L79.3 -49.1L81.5 -47.4L83.7 -45.7L85.7 -43.8L87.6 -41.9L89.3 -39.9L91.0 -37.8L92.5 -35.6L94.0 -33.4L95.3 -31.1L96.4 -28.7L97.5 -26.2L98.4 -23.6L99.3 -20.9L99.9 -18.1L100.5 -15.2L100.9 -12.1L101.2 -8.7L101.4 -5.0ZM95.4 -4.5L95.3 -7.9L95.0 -10.9L94.6 -13.7L94.0 -16.4L93.4 -18.9L92.6 -21.3L91.7 -23.6L90.7 -25.9L89.6 -28.1L88.4 -30.1L87.1 -32.2L85.6 -34.1L84.1 -36.0L82.4 -37.8L80.6 -39.5L78.7 -41.2L76.7 -42.8L74.6 -44.4L72.4 -45.9L70.0 -47.3L67.6 -48.6L65.1 -49.9L62.4 -51.1L59.7 -52.2L56.8 -53.3L53.8 -54.2L50.8 -55.2L47.6 -56.0L44.3 -56.8L40.9 -57.5L37.3 -58.1L33.6 -58.7L29.8 -59.2L25.8 -59.6L21.7 -59.9L17.2 -60.2L12.5 -60.4L7.2 -60.5L-0.0 -60.5L-7.2 -60.5L-12.5 -60.4L-17.2 -60.2L-21.7 -59.9L-25.8 -59.6L-29.8 -59.2L-33.6 -58.7L-37.3 -58.1L-40.9 -57.5L-44.3 -56.8L-47.6 -56.0L-50.8 -55.2L-53.8 -54.2L-56.8 -53.3L-59.7 -52.2L-62.4 -51.1L-65.1 -49.9L-67.6 -48.6L-70.0 -47.3L-72.4 -45.9L-74.6 -44.4L-76.7 -42.8L-78.7 -41.2L-80.6 -39.5L-82.4 -37.8L-84.1 -36.0L-85.6 -34.1L-87.1 -32.2L-88.4 -30.1L-89.6 -28.1L-90.7 -25.9L-91.7 -23.6L-92.6 -21.3L-93.4 -18.9L-94.0 -16.4L-94.6 -13.7L-95.0 -10.9L-95.3 -7.9L-95.4 -4.5L-95.5 0.0L-95.5 8.5L-95.3 12.9L-95.1 16.5L-94.8 19.7L-94.4 22.5L-93.9 25.1L-93.3 27.4L-92.6 29.7L-91.9 31.8L-91.0 33.8L-90.1 35.7L-89.0 37.5L-87.9 39.2L-86.7 40.8L-85.4 42.4L-84.0 43.8L-82.5 45.2L-80.9 46.6L-79.2 47.8L-77.4 49.0L-75.5 50.2L-73.5 51.2L-71.4 52.3L-69.2 53.2L-66.9 54.1L-64.4 54.9L-61.9 55.7L-59.2 56.4L-56.3 57.1L-53.4 57.7L-50.2 58.2L-46.9 58.7L-43.3 59.1L-39.5 59.5L-35.5 59.8L-31.0 60.0L-26.1 60.2L-20.4 60.4L-13.4 60.5L0.0 60.5L13.4 60.5L20.4 60.4L26.1 60.2L31.0 60.0L35.5 59.8L39.5 59.5L43.3 59.1L46.9 58.7L50.2 58.2L53.4 57.7L56.3 57.1L59.2 56.4L61.9 55.7L64.4 54.9L66.9 54.1L69.2 53.2L71.4 52.3L73.5 51.2L75.5 50.2L77.4 49.0L79.2 47.8L80.9 46.6L82.5 45.2L84.0 43.8L85.4 42.4L86.7 40.8L87.9 39.2L89.0 37.5L90.1 35.7L91.0 33.8L91.9 31.8L92.6 29.7L93.3 27.4L93.9 25.1L94.4 22.5L94.8 19.7L95.1 16.5L95.3 12.9L95.5 8.5L95.5 0.0Z" fill-rule="evenodd"/>
<path d="M-91.7 27.2L-92.1 25.9L-92.5 24.5L-92.9 23.0L-93.2 21.4L-93.5 19.8L-93.8 18.0L-94.0 16.2L-94.2 14.1L-94.3 11.9L-94.4 9.3L-94.5 6.1L-94.5 0.0L-94.5 -3.0L-94.4 -5.2L-94.3 -7.2L-94.1 -9.1L-93.9 -10.9L-93.6 -12.6L-93.2 -14.2L-92.8 -15.8L-92.4 -17.3L-91.9 -18.8L-91.4 -20.3L-90.8 -21.7L-90.1 -23.1L-89.4 -24.4L-88.7 -25.7L-87.9 -27.0L-87.1 -28.3L-86.2 -29.5L-85.2 -30.7L-84.2 -31.9L-83.2 -33.0L-82.1 -34.1L-81.0 -35.2L-79.8 -36.3L-78.5 -37.3L-77.2 -38.3L-75.9 -39.3L-74.5 -40.2L-73.1 -41.2L-71.6 -42.1L-70.1 -42.9L-68.5 -43.8L-66.9 -44.6L-65.2 -45.4L-63.5 -46.1L-61.8 -46.8L-60.0 -47.5L-58.1 -48.2L-56.2 -48.9L-54.3 -49.5L-52.3 -50.1L-50.2 -50.6L-48.2 -51.1L-46.0 -51.6L-43.8 -52.1L-41.6 -52.5L-39.3 -52.9L-36.9 -53.3L-34.5 -53.7L-32.1 -54.0L-29.5 -54.3L-26.9 -54.5L-24.2 -54.8L-21.4 -55.0L-18.5 -55.1L-15.5 -55.3L-12.3 -55.4L-8.9 -55.4L-5.1 -55.5L-0.0 -55.5L5.1 -55.5L8.9 -55.4L12.3 -55.4L15.5 -55.3L18.5 -55.1L21.4 -55.0L24.2 -54.8L26.9 -54.5L29.5 -54.3L32.1 -54.0L34.5 -53.7L36.9 -53.3L39.3 -52.9L41.6 -52.5L43.8 -52.1L46.0 -51.6L48.2 -51.1L50.2 -50.6L52.3 -50.1L54.3 -49.5L56.2 -48.9L58.1 -48.2L60.0 -47.5L61.8 -46.8L63.5 -46.1L65.2 -45.4L66.9 -44.6L68.5 -43.8L70.1 -42.9L71.6 -42.1L73.1 -41.2L74.5 -40.2L75.9 -39.3L77.2 -38.3L78.5 -37.3L79.8 -36.3L81.0 -35.2L82.1 -34.1L83.2 -33.0L84.2 -31.9L85.2 -30.7L86.2 -29.5L87.1 -28.3L87.9 -27.0L88.7 -25.7L89.4 -24.4L90.1 -23.1L90.8 -21.7L91.4 -20.3L91.9 -18.8L92.4 -17.3L92.8 -15.8L93.2 -14.2L93.6 -12.6L93.9 -10.9L94.1 -9.1L94.3 -7.2L94.4 -5.2L94.5 -3.0L94.5 0.0L94.5 6.1L94.4 9.3L94.3 11.9L94.2 14.1L94.0 16.2L93.8 18.0L93.5 19.8L93.2 21.4L92.9 23.0L92.5 24.5L92.1 25.9L91.7 27.2L84.4 27.2L84.9 26.3L85.4 25.2L85.8 24.0L86.3 22.9L86.7 21.6L87.0 20.3L87.3 18.9L87.6 17.5L87.8 15.9L88.0 14.3L88.2 12.5L88.3 10.5L88.4 8.2L88.5 5.4L88.5 0.0L88.5 -2.7L88.4 -4.6L88.3 -6.4L88.1 -8.0L87.9 -9.6L87.6 -11.1L87.3 -12.6L86.9 -13.9L86.5 -15.3L86.1 -16.6L85.6 -17.9L85.0 -19.2L84.4 -20.4L83.8 -21.6L83.1 -22.7L82.3 -23.9L81.5 -25.0L80.7 -26.1L79.8 -27.1L78.9 -28.1L77.9 -29.2L76.9 -30.1L75.8 -31.1L74.7 -32.0L73.5 -32.9L72.3 -33.8L71.1 -34.7L69.8 -35.5L68.5 -36.3L67.1 -37.1L65.6 -37.9L64.2 -38.6L62.7 -39.4L61.1 -40.0L59.5 -40.7L57.9 -41.4L56.2 -42.0L54.4 -42.6L52.7 -43.1L50.8 -43.7L49.0 -44.2L47.1 -44.7L45.1 -45.1L43.1 -45.6L41.0 -46.0L38.9 -46.4L36.8 -46.7L34.6 -47.1L32.3 -47.4L30.0 -47.7L27.6 -47.9L25.2 -48.1L22.7 -48.3L20.1 -48.5L17.4 -48.7L14.5 -48.8L11.6 -48.9L8.4 -48.9L4.8 -49.0L-0.0 -49.0L-4.8 -49.0L-8.4 -48.9L-11.6 -48.9L-14.5 -48.8L-17.4 -48.7L-20.1 -48.5L-22.7 -48.3L-25.2 -48.1L-27.6 -47.9L-30.0 -47.7L-32.3 -47.4L-34.6 -47.1L-36.8 -46.7L-38.9 -46.4L-41.0 -46.0L-43.1 -45.6L-45.1 -45.1L-47.1 -44.7L-49.0 -44.2L-50.8 -43.7L-52.7 -43.1L-54.4 -42.6L-56.2 -42.0L-57.9 -41.4L-59.5 -40.7L-61.1 -40.0L-62.7 -39.4L-64.2 -38.6L-65.6 -37.9L-67.1 -37.1L-68.5 -36.3L-69.8 -35.5L-71.1 -34.7L-72.3 -33.8L-73.5 -32.9L-74.7 -32.0L-75.8 -31.1L-76.9 -30.1L-77.9 -29.2L-78.9 -28.1L-79.8 -27.1L-80.7 -26.1L-81.5 -25.0L-82.3 -23.9L-83.1 -22.7L-83.8 -21.6L-84.4 -20.4L-85.0 -19.2L-85.6 -17.9L-86.1 -16.6L-86.5 -15.3L-86.9 -13.9L-87.3 -12.6L-87.6 -11.1L-87.9 -9.6L-88.1 -8.0L-88.3 -6.4L-88.4 -4.6L-88.5 -2.7L-88.5 0.0L-88.5 5.4L-88.4 8.2L-88.3 10.5L-88.2 12.5L-88.0 14.3L-87.8 15.9L-87.6 17.5L-87.3 18.9L-87.0 20.3L-86.7 21.6L-86.3 22.9L-85.8 24.0L-85.4 25.2L-84.9 26.3L-84.4 27.2Z"/>
<path d="M91.7 27.2L91.7 27.2L91.2 28.5L90.6 29.8L90.1 31.0L89.5 32.2L88.8 33.3L88.1 34.4L87.4 35.4L86.6 36.5L85.8 37.4L84.9 38.4L84.0 39.3L83.1 40.2L82.1 41.1L81.1 41.9L80.0 42.7L78.9 43.5L77.8 44.3L76.6 45.0L75.4 45.7L74.1 46.4L72.7 47.0L71.4 47.6L70.0 48.2L68.5 48.8L67.0 49.4L65.4 49.9L63.8 50.4L62.1 50.9L60.4 51.3L58.6 51.8L56.7 52.2L54.8 52.5L52.8 52.9L50.7 53.2L48.6 53.5L46.4 53.8L44.1 54.1L41.7 54.3L39.1 54.6L36.5 54.8L33.7 54.9L30.7 55.1L27.5 55.2L24.0 55.3L20.2 55.4L15.8 55.5L10.4 55.5L0.0 55.5L-10.4 55.5L-15.8 55.5L-20.2 55.4L-24.0 55.3L-27.5 55.2L-30.7 55.1L-33.7 54.9L-36.5 54.8L-39.1 54.6L-41.7 54.3L-44.1 54.1L-46.4 53.8L-48.6 53.5L-50.7 53.2L-52.8 52.9L-54.8 52.5L-56.7 52.2L-58.6 51.8L-60.4 51.3L-62.1 50.9L-63.8 50.4L-65.4 49.9L-67.0 49.4L-68.5 48.8L-70.0 48.2L-71.4 47.6L-72.7 47.0L-74.1 46.4L-75.4 45.7L-76.6 45.0L-77.8 44.3L-78.9 43.5L-80.0 42.7L-81.1 41.9L-82.1 41.1L-83.1 40.2L-84.0 39.3L-84.9 38.4L-85.8 37.4L-86.6 36.5L-87.4 35.4L-88.1 34.4L-88.8 33.3L-89.5 32.2L-90.1 31.0L-90.6 29.8L-91.2 28.5L-91.7 27.2L-91.7 27.2Z" stroke="#e83c32" stroke-width="2" stroke-linejoin="round"/>
<text x="-85.7" y="19.7" textLength="174.8" lengthAdjust="spacingAndGlyphs" font-family="Liberation Sans,DejaVu Sans,sans-serif" font-weight="700" font-size="71.2" stroke="#e83c32" stroke-width="7.5" stroke-linejoin="round">SAWIN</text>
<text x="-40.5" y="46.3" textLength="74" lengthAdjust="spacingAndGlyphs" font-family="Liberation Sans,DejaVu Sans,sans-serif" font-style="italic" font-size="21" fill="#fff" stroke="#fff" stroke-width=".3">GROUP</text>
</g></defs>
<g fill="#e83c32" opacity=".17">
<use href="#wm" x="640.3" y="198.5"/>
</g>
<g fill="#e83c32" opacity=".17">
<use href="#wm" x="408.8" y="435"/>
</g>
<g fill="#e83c32" opacity=".17">
<use href="#wm" x="991.5" y="376.4"/>
</g>
</svg>
</body></html>
